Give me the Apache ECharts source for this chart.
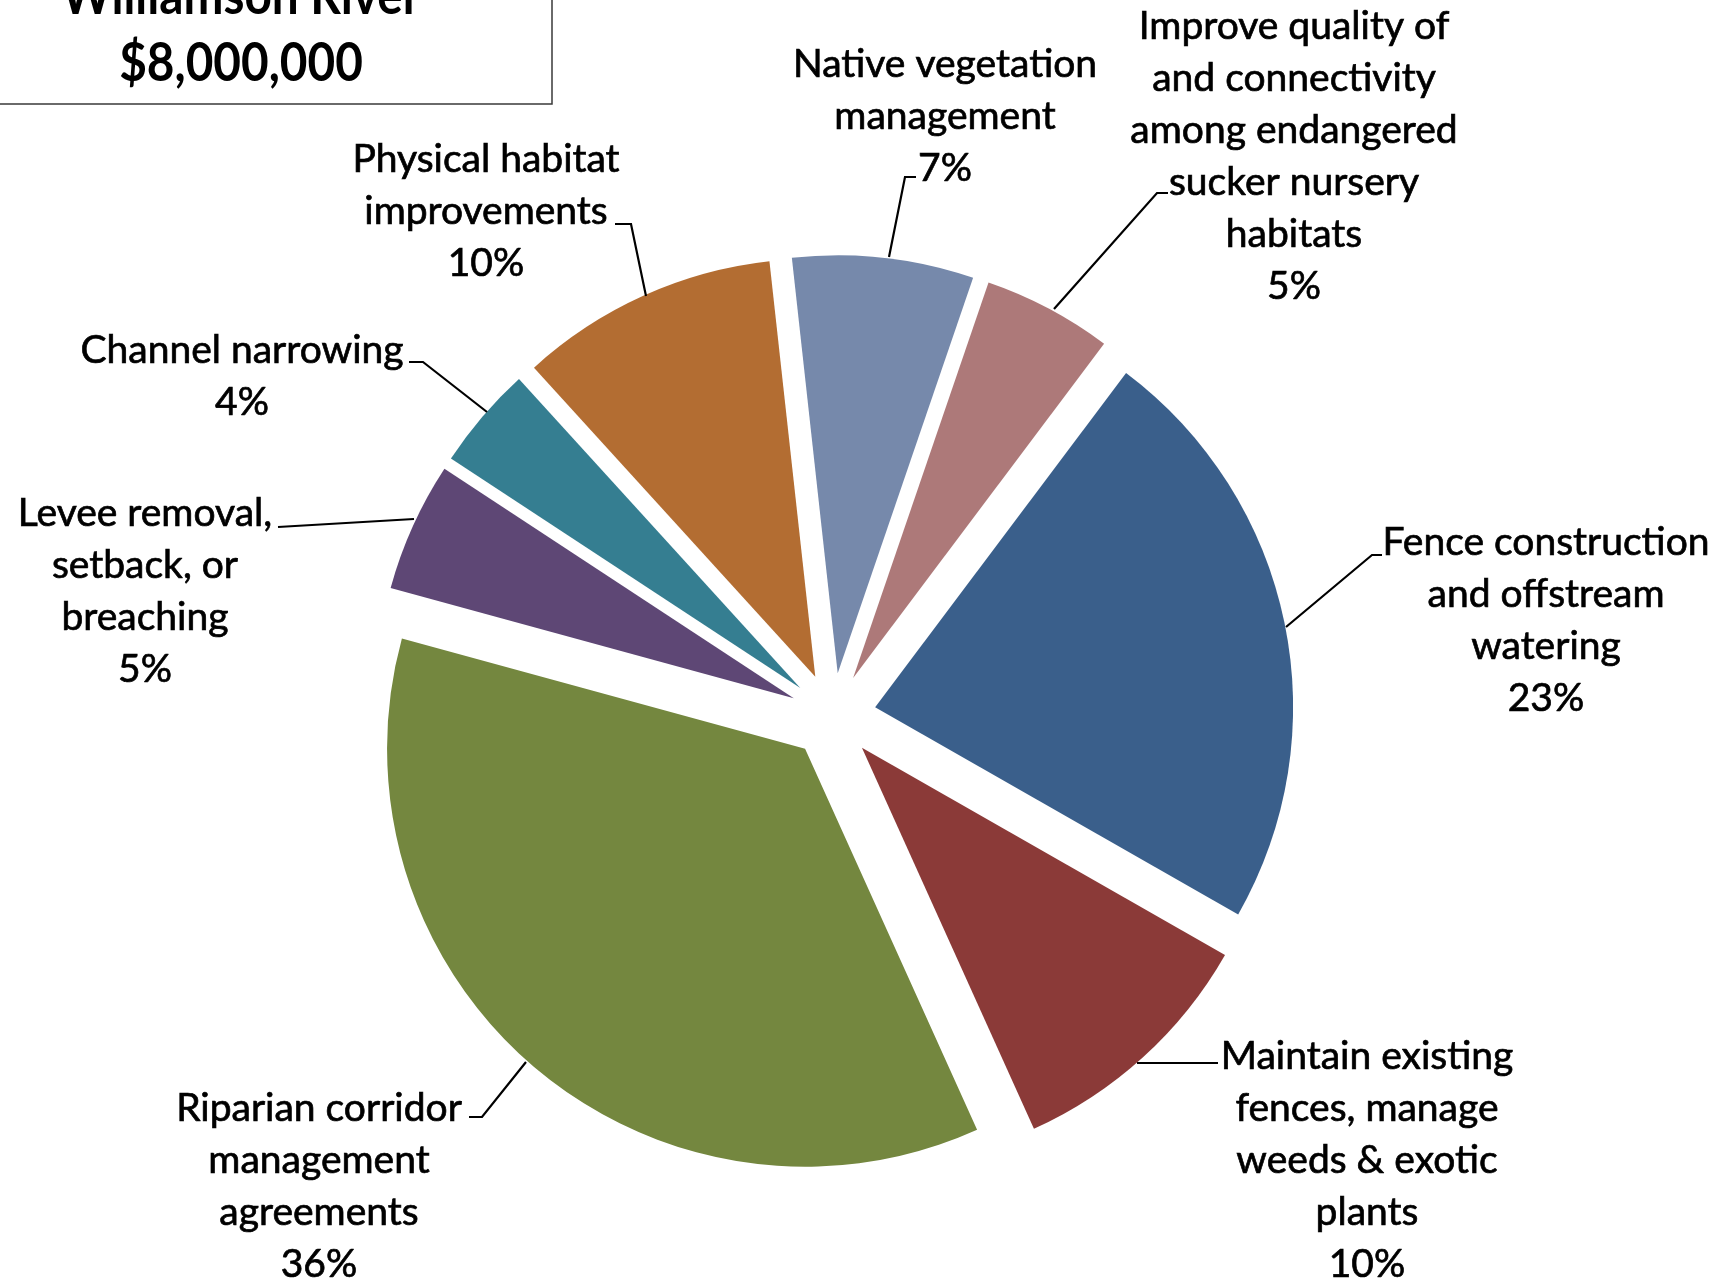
<!DOCTYPE html>
<html>
<head>
<meta charset="utf-8">
<script src="https://cdn.jsdelivr.net/npm/echarts@6/dist/echarts.min.js"></script>
<style>
  html, body { margin: 0; padding: 0; background: #ffffff; }
  #chart { width: 1731px; height: 1282px; }
</style>
</head>
<body>
<div id="chart"></div>
<script>
// ---- Data ----
const titleLines = ['Williamson River', '$8,000,000'];
const categories = [
  'Native vegetation\nmanagement',
  'Improve quality of\nand connectivity\namong endangered\nsucker nursery\nhabitats',
  'Fence construction\nand offstream\nwatering',
  'Maintain existing\nfences, manage\nweeds & exotic\nplants',
  'Riparian corridor\nmanagement\nagreements',
  'Levee removal,\nsetback, or\nbreaching',
  'Channel narrowing',
  'Physical habitat\nimprovements'
];
const shares = [7, 5, 23, 10, 36, 5, 4, 10];   // percent of $8,000,000
const colors = ['#7689AB', '#AD7979', '#3A5F8B', '#8B3A38', '#74873F', '#5E4775', '#357E91', '#B36D32'];

// ---- Layout (label block centres and leader-line paths, px) ----
const labelPos = [
  [945, 116], [1294, 156], [1546, 620], [1367, 1160],
  [319, 1186], [145, 591], [242, 376], [486, 211]
];
const leaderPaths = [
  [[889, 257], [905, 177], [916, 177]],
  [[1054, 309], [1157, 193], [1168, 193]],
  [[1286, 627], [1372, 555], [1382, 555]],
  [[1137, 1063], [1218, 1063]],
  [[526, 1062], [482, 1117], [469, 1117]],
  [[414, 519], [278, 527]],
  [[487, 412], [423, 362], [409, 362]],
  [[646, 296], [631, 224], [615, 224]]
];

const chart = echarts.init(document.getElementById('chart'), null, { renderer: 'canvas' });

const labelFont = '39px Lato, "Open Sans", sans-serif';

const graphics = [
  {
    type: 'rect',
    shape: { x: -20, y: -60, width: 572, height: 164 },
    style: { fill: '#ffffff', stroke: '#3a3a3a', lineWidth: 1.5 },
    z: 10
  },
  {
    type: 'text',
    x: 241, y: 30,
    scaleX: 0.9,
    style: {
      text: titleLines.join('\n'),
      font: 'bold 53px Lato, sans-serif',
      lineHeight: 67,
      fill: '#000000',
      align: 'center',
      verticalAlign: 'middle'
    },
    z: 11
  }
];

categories.forEach((name, i) => {
  graphics.push({
    type: 'text',
    x: labelPos[i][0], y: labelPos[i][1],
    style: {
      text: name + '\n' + shares[i] + '%',
      font: labelFont,
      lineHeight: 52,
      fill: '#000000',
      stroke: '#000000',
      lineWidth: 0.7,
      align: 'center',
      verticalAlign: 'middle'
    },
    z: 5
  });
  graphics.push({
    type: 'polyline',
    shape: { points: leaderPaths[i] },
    style: { stroke: '#000000', lineWidth: 2.2, fill: null },
    z: 4
  });
});

const option = {
  animation: false,
  backgroundColor: '#ffffff',
  graphic: graphics,
  series: [{
    type: 'pie',
    center: [833, 716],
    radius: 418,
    startAngle: 96.3,
    clockwise: true,
    selectedMode: 'multiple',
    selectedOffset: 43,
    avoidLabelOverlap: false,
    emphasis: { disabled: true },
    itemStyle: { borderWidth: 0 },
    label: { show: false },
    labelLine: { show: false },
    data: categories.map((name, i) => ({
      name: name,
      value: shares[i],
      selected: true,
      itemStyle: { color: colors[i] }
    }))
  }]
};

chart.setOption(option);
</script>
</body>
</html>
